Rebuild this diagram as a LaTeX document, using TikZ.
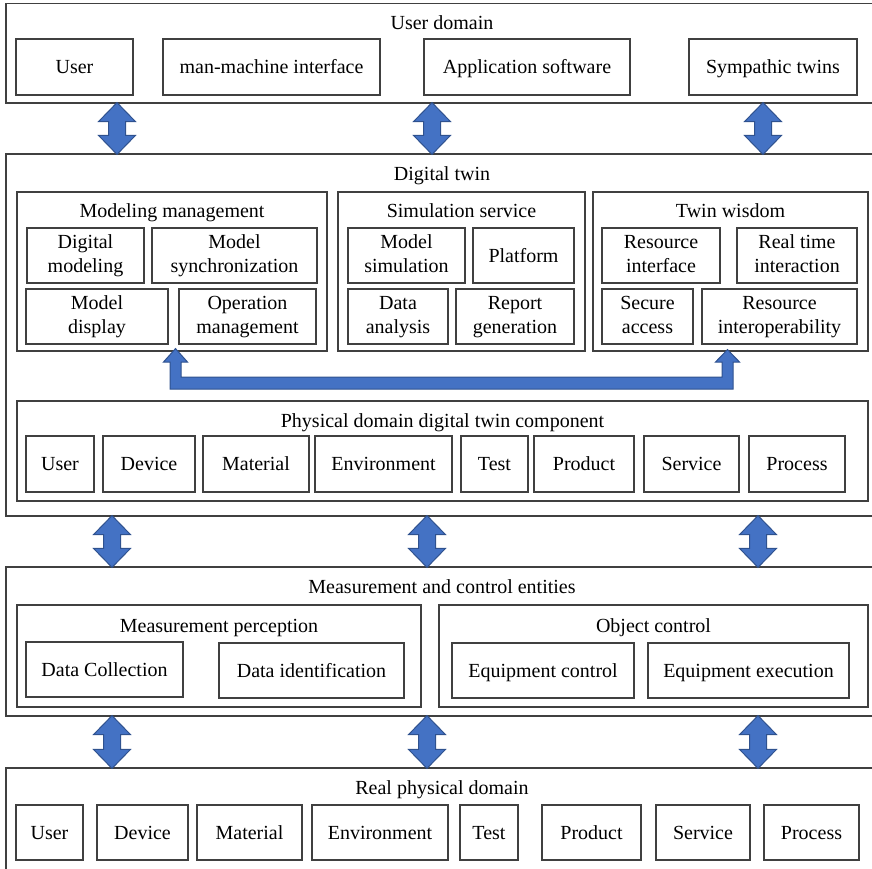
\documentclass[tikz,border=0pt]{standalone}
\usepackage{fontspec}
\setmainfont{LiberationSerif}[Extension=.ttf, UprightFont=*-Regular, BoldFont=*-Bold, ItalicFont=*-Italic, BoldItalicFont=*-BoldItalic]
\usetikzlibrary{calc}
\definecolor{arrowfill}{HTML}{4472C4}
\definecolor{arrowedge}{HTML}{2F528F}
\definecolor{boxline}{HTML}{404040}
\newcommand\mystrut{\rule[-4.5pt]{0pt}{18.5pt}}
% single-line box: name, x1, y1, x2, y2, text
\newcommand\bx[6]{\node[bx, text height=13.4pt, text depth=0pt, minimum width={(#4-#2)*1pt}, minimum height={(#5-#3)*1pt}] (#1) at ({(#2+#4)/2},{(#3+#5)/2}) {#6};}
% two-line box
\newcommand\bxx[6]{\node[bx, align=center, minimum width={(#4-#2)*1pt}, minimum height={(#5-#3)*1pt}] (#1) at ({(#2+#4)/2},{(#3+#5)/2}) {\mystrut#6\mystrut};}
% title: name, x, baseline y, text
\newcommand\ttl[4]{\node[ttl] (#1) at (#2,#3) {#4};}
% vertical double arrow: x, upper node, lower node
\newcommand\vdarrow[3]{\path[bigarrow] let \p1=(#2.south), \p2=(#3.north) in
  ({#1pt},{\y1+1pt}) -- ({#1pt+18.5pt},{\y1-18pt}) -- ({#1pt+8.5pt},{\y1-18pt}) -- ({#1pt+8.5pt},{\y2+18pt}) -- ({#1pt+18.5pt},{\y2+18pt}) -- ({#1pt},{\y2-1pt}) -- ({#1pt-18.5pt},{\y2+18pt}) -- ({#1pt-8.5pt},{\y2+18pt}) -- ({#1pt-8.5pt},{\y1-18pt}) -- ({#1pt-18.5pt},{\y1-18pt}) -- cycle;}
\begin{document}
\begin{tikzpicture}[x=1pt, y=-1pt,
  every node/.style={font=\fontsize{20pt}{24pt}\selectfont},
  bx/.style={draw=boxline, line width=1.2pt, inner sep=0pt, rectangle},
  ttl/.style={anchor=base, inner sep=0pt},
  bigarrow/.style={fill=arrowfill, draw=arrowedge, line width=1pt, line join=miter}]
\useasboundingbox (0,0) rectangle (872,868);
\clip (0,0) rectangle (872,868);
% ---------- User domain
\bx{ud}{6}{3.5}{878}{103}{}
\ttl{udt}{442}{29.5}{User domain}
\bx{u1}{16}{39}{133}{95}{User}
\bx{u2}{163}{39}{380}{95}{man-machine interface}
\bx{u3}{424}{39}{630}{95}{Application software}
\bx{u4}{689}{39}{857}{95}{Sympathic twins}
% ---------- Digital twin
\bx{dt}{6}{154}{878}{516}{}
\ttl{dtt}{442}{180}{Digital twin}
\bx{mm}{17}{192}{327}{351}{}
\ttl{mmt}{172}{217.5}{Modeling management}
\bxx{dm}{27}{228}{144}{283}{Digital\\modeling}
\bxx{ms}{152}{228}{317}{283}{Model\\synchronization}
\bxx{md}{26}{289}{168}{344}{Model\\display}
\bxx{om}{179}{289}{316}{344}{Operation\\management}
\bx{ss}{338}{192}{585}{351}{}
\ttl{sst}{461.5}{217.5}{Simulation service}
\bxx{msim}{348}{228}{465}{283}{Model\\simulation}
\bx{pf}{473}{228}{574}{283}{Platform}
\bxx{da}{348}{289}{448}{344}{Data\\analysis}
\bxx{rg}{456}{289}{574}{344}{Report\\generation}
\bx{tw}{593}{192}{868}{351}{}
\ttl{twt}{730.5}{217.5}{Twin wisdom}
\bxx{ri}{602}{228}{720}{283}{Resource\\interface}
\bxx{rt}{737}{228}{857}{283}{Real time\\interaction}
\bxx{sa}{602}{289}{693}{344}{Secure\\access}
\bxx{rio}{702}{289}{857}{344}{Resource\\interoperability}
\bx{pc}{17}{401}{868}{501}{}
\ttl{pct}{442.5}{427}{Physical domain digital twin component}
\bx{p1}{26}{436}{94}{492}{User}
\bx{p2}{103}{436}{195}{492}{Device}
\bx{p3}{203}{436}{309}{492}{Material}
\bx{p4}{315}{436}{452}{492}{Environment}
\bx{p5}{461}{436}{528}{492}{Test}
\bx{p6}{534}{436}{634}{492}{Product}
\bx{p7}{644}{436}{739}{492}{Service}
\bx{p8}{749}{436}{845}{492}{Process}
% ---------- Measurement and control
\bx{mc}{6}{567}{878}{716}{}
\ttl{mct}{442}{593}{Measurement and control entities}
\bx{mp}{17}{605}{421}{707}{}
\ttl{mpt}{219}{632}{Measurement perception}
\bx{dc}{26}{642}{183}{697}{Data Collection}
\bx{di}{219}{643}{404}{698}{Data identification}
\bx{oc}{439}{605}{868}{707}{}
\ttl{oct}{653.5}{632}{Object control}
\bx{ec}{452}{643}{634}{698}{Equipment control}
\bx{ee}{648}{643}{849}{698}{Equipment execution}
% ---------- Real physical domain
\bx{rp}{6}{768}{878}{880}{}
\ttl{rpt}{442}{794}{Real physical domain}
\bx{r1}{16}{805}{83}{860}{User}
\bx{r2}{97}{805}{188}{860}{Device}
\bx{r3}{197}{805}{302}{860}{Material}
\bx{r4}{312}{805}{448}{860}{Environment}
\bx{r5}{460}{805}{518}{860}{Test}
\bx{r6}{542}{805}{641}{860}{Product}
\bx{r7}{656}{805}{750}{860}{Service}
\bx{r8}{764}{805}{859}{860}{Process}
% ---------- arrows
\vdarrow{117}{ud}{dt}
\vdarrow{432}{ud}{dt}
\vdarrow{763}{ud}{dt}
\vdarrow{112}{dt}{mc}
\vdarrow{427}{dt}{mc}
\vdarrow{758}{dt}{mc}
\vdarrow{112}{mc}{rp}
\vdarrow{427}{mc}{rp}
\vdarrow{758}{mc}{rp}
% feedback arrow between Modeling management and Twin wisdom
\path[bigarrow] let \p1=(mm.south), \p2=(tw.south) in
  (175.5pt,{\y1+3pt}) -- (187.5,362) -- (181,362) -- (181,377) -- (722,377) -- (722,362) -- (715.5,362)
  -- (727.5pt,{\y2+2pt}) -- (739.5,362) -- (733,362) -- (733,389) -- (170,389) -- (170,362) -- (163.5,362) -- cycle;
\end{tikzpicture}
\end{document}
